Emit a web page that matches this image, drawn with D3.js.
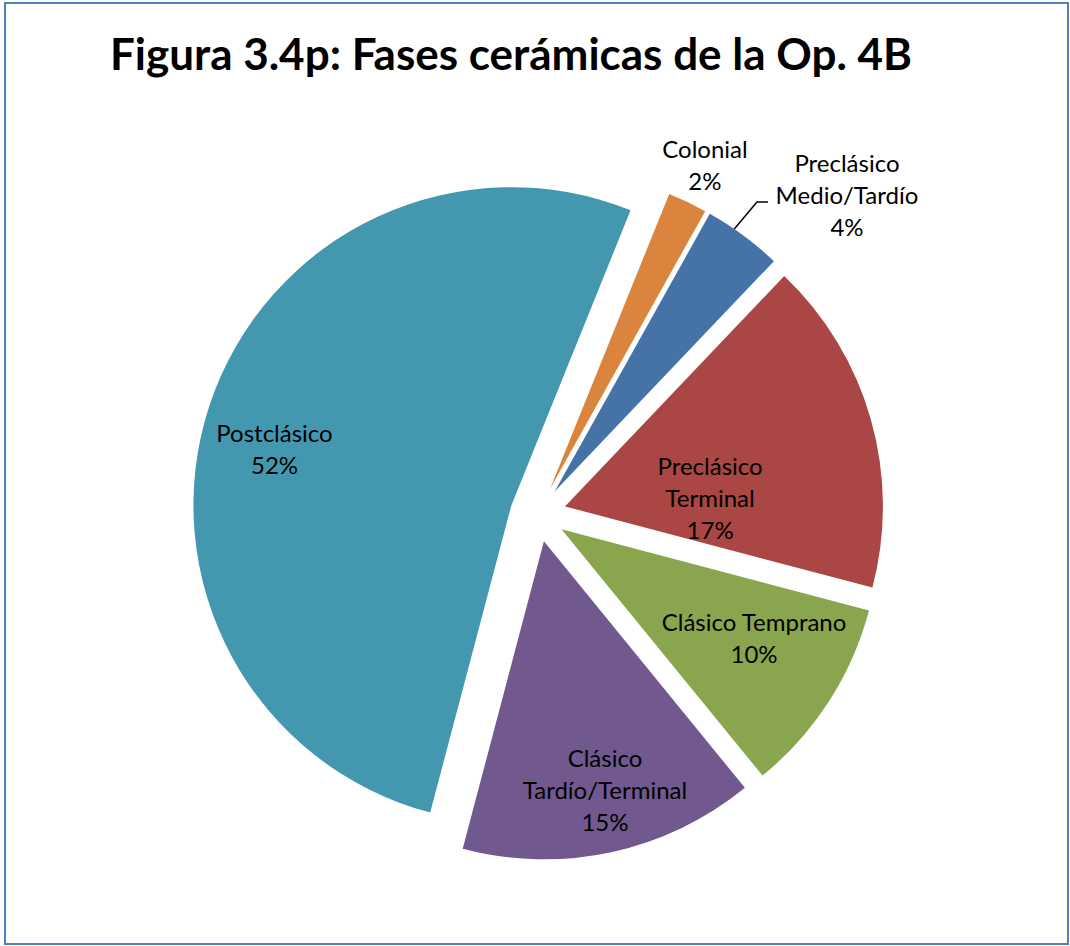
<!DOCTYPE html>
<html>
<head>
<meta charset="utf-8">
<script src="https://cdn.jsdelivr.net/npm/d3@7"></script>
<style>
  body { margin: 0; background: #fff; }
  text { font-family: Lato, "Open Sans", sans-serif; }
</style>
</head>
<body>
<svg id="chart"></svg>
<script>
// chart data
var phases = ["Colonial", "Preclásico Medio/Tardío", "Preclásico Terminal", "Clásico Temprano", "Clásico Tardío/Terminal", "Postclásico"];
var percents = [2, 4, 17, 10, 15, 52];
var labelLines = [["Colonial"], ["Preclásico", "Medio/Tardío"], ["Preclásico", "Terminal"], ["Clásico Temprano"], ["Clásico", "Tardío/Terminal"], ["Postclásico"]];
var colors = ["#DB843D", "#4572A7", "#AA4643", "#89A54E", "#71588F", "#4398AF"];

var width = 1070, height = 946;
var cx = 538, cy = 514;
var radius = 318;
var explode = 28;
var firstAngle = 22 * Math.PI / 180;
// label spot: fraction of radius from slice tip, and turn (deg) off the slice middle
var labelK = [1.127, 1.307, 0.457, 0.697, 0.808, 0.765];
var labelTurn = [0, 8.3, 13, -3.1, -1.55, -5.3];

var svg = d3.select("#chart").attr("width", width).attr("height", height);

svg.append("rect")
    .attr("x", 5).attr("y", 3)
    .attr("width", 1063).attr("height", 941)
    .attr("fill", "#fff")
    .attr("stroke", "#4F81BD")
    .attr("stroke-width", 2);

svg.append("text")
    .attr("x", 511).attr("y", 70)
    .attr("text-anchor", "middle")
    .style("font-size", "44px")
    .style("font-weight", "bold")
    .text("Figura 3.4p: Fases cerámicas de la Op. 4B");

var pie = d3.pie().sort(null).value(function (d) { return d; })
    .startAngle(firstAngle).endAngle(firstAngle + 2 * Math.PI);
var arc = d3.arc().innerRadius(0).outerRadius(radius);
var arcs = pie(percents);

function dir(a) { return [Math.sin(a), -Math.cos(a)]; }

var g = svg.append("g").attr("transform", "translate(" + cx + "," + cy + ")");

g.selectAll("path").data(arcs).enter().append("path")
    .attr("d", arc)
    .attr("fill", function (d, i) { return colors[i]; })
    .attr("transform", function (d) {
        var m = dir((d.startAngle + d.endAngle) / 2);
        return "translate(" + m[0] * explode + "," + m[1] * explode + ")";
    });

var lineH = 32;
arcs.forEach(function (d, i) {
    var mid = (d.startAngle + d.endAngle) / 2;
    var m = dir(mid);
    var tipX = m[0] * explode, tipY = m[1] * explode;
    var l = dir(mid + labelTurn[i] * Math.PI / 180);
    var x = tipX + l[0] * radius * labelK[i];
    var y = tipY + l[1] * radius * labelK[i];
    var lines = labelLines[i].concat([percents[i] + "%"]);
    var t = g.append("text")
        .attr("text-anchor", "middle")
        .style("font-size", "24px")
        .attr("fill", "#000");
    lines.forEach(function (s, j) {
        t.append("tspan")
            .attr("x", x)
            .attr("y", y + (j - (lines.length - 1) / 2) * lineH + 8)
            .text(s);
    });
    if (i === 1) {
        // leader line to the small slice
        var s = dir(mid - 2 * Math.PI / 180);
        var p0 = [tipX + s[0] * radius, tipY + s[1] * radius];
        var bx = x - 79, by = y + 6;
        g.append("path")
            .attr("d", d3.line()([p0, [bx - 11, by], [bx, by]]))
            .attr("fill", "none")
            .attr("stroke", "#000")
            .attr("stroke-width", 1.5);
    }
});
</script>
</body>
</html>
